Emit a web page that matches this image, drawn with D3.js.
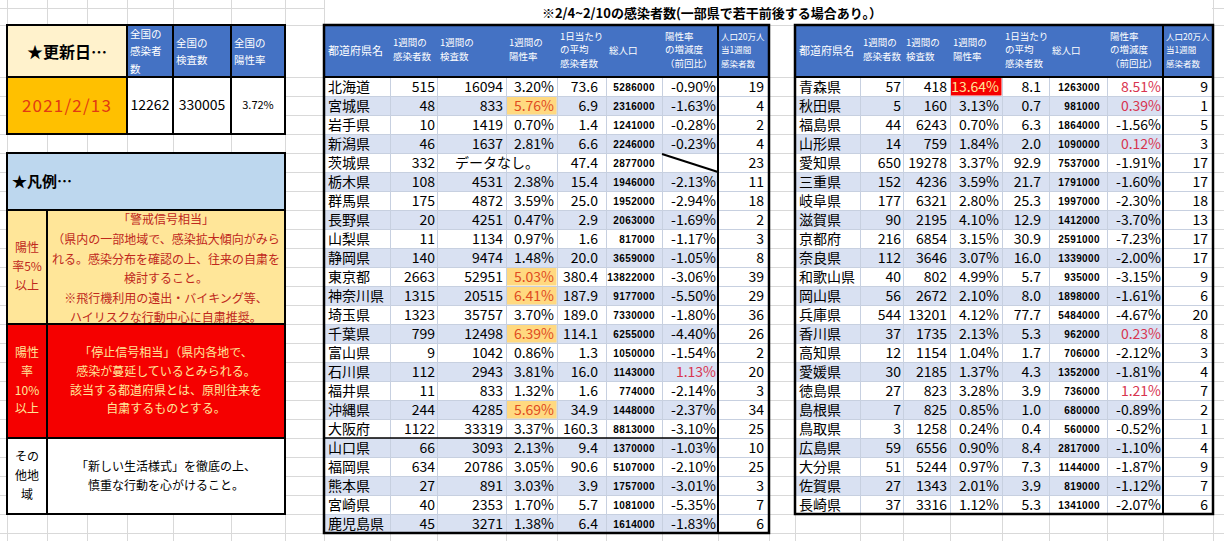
<!DOCTYPE html>
<html>
<head>
<meta charset="utf-8">
<script src="https://cdn.jsdelivr.net/npm/d3@7"></script>
<style>
  body { margin: 0; background: #fff; }
  svg { display: block; font-family: "Noto Sans CJK JP", "Noto Sans", sans-serif; }
</style>
</head>
<body>
<svg id="sheet" width="1224" height="541"></svg>
<script>
// ---- data ----
const updateDate = "2021/2/13";
const summaryLabels = [["全国の", "感染者", "数"], ["全国の", "検査数"], ["全国の", "陽性率"]];
const summaryValues = ["12262", "330005", "3.72%"];

const title = "※2/4~2/10の感染者数(一部県で若干前後する場合あり。）";

const headerLines = [
	["都道府県名"],
	["1週間の", "感染者数"],
	["1週間の", "検査数"],
	["1週間の", "陽性率"],
	["1日当たり", "の平均", "感染者数"],
	["総人口"],
	["陽性率", "の増減度", "（前回比）"],
	["人口20万人", "当1週間", "感染者数"],
];

const midNames = ["北海道", "宮城県", "岩手県", "新潟県", "茨城県", "栃木県", "群馬県", "長野県", "山梨県", "静岡県", "東京都", "神奈川県", "埼玉県", "千葉県", "富山県", "石川県", "福井県", "沖縄県", "大阪府", "山口県", "福岡県", "熊本県", "宮崎県", "鹿児島県"];
const midCases = [515, 48, 10, 46, 332, 108, 175, 20, 11, 140, 2663, 1315, 1323, 799, 9, 112, 11, 244, 1122, 66, 634, 27, 40, 45];
const midTests = [16094, 833, 1419, 1637, null, 4531, 4872, 4251, 1134, 9474, 52951, 20515, 35757, 12498, 1042, 2943, 833, 4285, 33319, 3093, 20786, 891, 2353, 3271];
const midRate = [3.20, 5.76, 0.70, 2.81, null, 2.38, 3.59, 0.47, 0.97, 1.48, 5.03, 6.41, 3.70, 6.39, 0.86, 3.81, 1.32, 5.69, 3.37, 2.13, 3.05, 3.03, 1.70, 1.38];
const midAvg = [73.6, 6.9, 1.4, 6.6, 47.4, 15.4, 25.0, 2.9, 1.6, 20.0, 380.4, 187.9, 189.0, 114.1, 1.3, 16.0, 1.6, 34.9, 160.3, 9.4, 90.6, 3.9, 5.7, 6.4];
const midPop = [5286000, 2316000, 1241000, 2246000, 2877000, 1946000, 1952000, 2063000, 817000, 3659000, 13822000, 9177000, 7330000, 6255000, 1050000, 1143000, 774000, 1448000, 8813000, 1370000, 5107000, 1757000, 1081000, 1614000];
const midChange = [-0.90, -1.63, -0.28, -0.23, null, -2.13, -2.94, -1.69, -1.17, -1.05, -3.06, -5.50, -1.80, -4.40, -1.54, 1.13, -2.14, -2.37, -3.10, -1.03, -2.10, -3.01, -5.35, -1.83];
const midPer = [19, 4, 2, 4, 23, 11, 18, 2, 3, 8, 39, 29, 36, 26, 2, 20, 3, 34, 25, 10, 25, 3, 7, 6];

const rightNames = ["青森県", "秋田県", "福島県", "山形県", "愛知県", "三重県", "岐阜県", "滋賀県", "京都府", "奈良県", "和歌山県", "岡山県", "兵庫県", "香川県", "高知県", "愛媛県", "徳島県", "島根県", "鳥取県", "広島県", "大分県", "佐賀県", "長崎県"];
const rightCases = [57, 5, 44, 14, 650, 152, 177, 90, 216, 112, 40, 56, 544, 37, 12, 30, 27, 7, 3, 59, 51, 27, 37];
const rightTests = [418, 160, 6243, 759, 19278, 4236, 6321, 2195, 6854, 3646, 802, 2672, 13201, 1735, 1154, 2185, 823, 825, 1258, 6556, 5244, 1343, 3316];
const rightRate = [13.64, 3.13, 0.70, 1.84, 3.37, 3.59, 2.80, 4.10, 3.15, 3.07, 4.99, 2.10, 4.12, 2.13, 1.04, 1.37, 3.28, 0.85, 0.24, 0.90, 0.97, 2.01, 1.12];
const rightAvg = [8.1, 0.7, 6.3, 2.0, 92.9, 21.7, 25.3, 12.9, 30.9, 16.0, 5.7, 8.0, 77.7, 5.3, 1.7, 4.3, 3.9, 1.0, 0.4, 8.4, 7.3, 3.9, 5.3];
const rightPop = [1263000, 981000, 1864000, 1090000, 7537000, 1791000, 1997000, 1412000, 2591000, 1339000, 935000, 1898000, 5484000, 962000, 706000, 1352000, 736000, 680000, 560000, 2817000, 1144000, 819000, 1341000];
const rightChange = [8.51, 0.39, -1.56, 0.12, -1.91, -1.60, -2.30, -3.70, -7.23, -2.00, -3.15, -1.61, -4.67, 0.23, -2.12, -1.81, 1.21, -0.89, -0.52, -1.10, -1.87, -1.12, -2.07];
const rightPer = [9, 1, 5, 3, 17, 17, 18, 13, 17, 17, 9, 6, 20, 8, 3, 4, 7, 2, 1, 4, 9, 7, 6];

const legendYellow = ["「警戒信号相当」", "（県内の一部地域で、感染拡大傾向がみら", "れる。感染分布を確認の上、往来の自粛を", "検討すること。", "※飛行機利用の遠出・バイキング等、", "ハイリスクな行動中心に自粛推奨。"];
const legendRed = ["「停止信号相当」（県内各地で、", "感染が蔓延しているとみられる。", "該当する都道府県とは、原則往来を", "自粛するものとする。"];
const legendWhite = ["「新しい生活様式」を徹底の上、", "慎重な行動を心がけること。"];
const legendLabels = [["陽性", "率5%", "以上"], ["陽性", "率", "10%", "以上"], ["その", "他地", "域"]];

// ---- layout ----
const W = 1224, H = 541;
const ROW_H = 19, TOP = 25, HEAD_B = 77;
const midEdges = [324, 390, 437, 506, 557, 606, 662, 718, 769];
const rightEdges = [795, 860, 903, 950, 1002, 1049, 1107, 1163, 1213];
const gridX = [7, 47, 87, 127, 173, 231, 285, 324, 390, 437, 506, 557, 606, 662, 718, 769, 795, 860, 903, 950, 1002, 1049, 1107, 1163, 1213];
const padR = [0, 2, 3, 3, 8, 7, 2, 5];

const C = {
	grid: "#d9d9d9",
	head: "#4472c4",
	stripe: "#d9e1f2",
	warn: "#ffd980",
	warnText: "#e04b1f",
	stop: "#f50000",
	stopText: "#ffe699",
	plus: "#d8344f",
	beige: "#fff2cc",
	orange: "#ffc000",
	legendBlue: "#bdd7ee",
	yellow: "#ffe699",
	yellowText: "#c0281c",
};

const svg = d3.select("#sheet");

// spreadsheet grid
const grid = svg.append("g").attr("stroke", C.grid).attr("stroke-width", 1);
grid.selectAll("line.v").data(gridX).join("line")
	.attr("x1", (d) => d + 0.5).attr("x2", (d) => d + 0.5)
	.attr("y1", 0).attr("y2", H);
const gridY = [8, TOP].concat(d3.range(HEAD_B, H, ROW_H));
grid.selectAll("line.h").data(gridY).join("line")
	.attr("x1", 0).attr("x2", W)
	.attr("y1", (d) => d + 0.5).attr("y2", (d) => d + 0.5);

// title (covers grid like overflowing cell text)
svg.append("rect").attr("x", 325).attr("y", 0).attr("width", 887).attr("height", TOP).attr("fill", "#fff");
svg.append("text").attr("x", 712).attr("y", 13).attr("dy", "0.36em")
	.attr("text-anchor", "middle").attr("font-size", 13).attr("font-weight", "bold")
	.text(title);

function lines(g, arr, x, yc, step, attrs) {
	const y0 = yc - ((arr.length - 1) * step) / 2;
	const t = g.append("g");
	for (const k in attrs) t.attr(k, attrs[k]);
	t.selectAll("text").data(arr).join("text")
		.attr("x", x).attr("y", (d, i) => y0 + i * step).attr("dy", "0.36em")
		.text((d) => d);
	return t;
}

// ---- left panel ----
const left = svg.append("g");
const sumEdges = [7, 127, 173, 231, 285];
left.append("rect").attr("x", 7).attr("y", TOP).attr("width", 120).attr("height", 52).attr("fill", C.beige);
left.append("rect").attr("x", 127).attr("y", TOP).attr("width", 158).attr("height", 52).attr("fill", C.head);
left.append("rect").attr("x", 7).attr("y", HEAD_B).attr("width", 120).attr("height", 57).attr("fill", C.orange);
left.append("rect").attr("x", 127).attr("y", HEAD_B).attr("width", 158).attr("height", 57).attr("fill", "#fff");
left.append("text").attr("x", 67).attr("y", 52).attr("dy", "0.36em").attr("text-anchor", "middle")
	.attr("font-size", 16).attr("font-weight", "bold").text("★更新日…");
left.append("text").attr("x", 67).attr("y", 106).attr("dy", "0.36em").attr("text-anchor", "middle")
	.attr("font-size", 17).attr("letter-spacing", 1.2).attr("fill", "#e23a12").text(updateDate);
summaryLabels.forEach((ls, i) => {
	const y0 = ls.length === 3 ? 34 : 43;
	left.append("g").attr("fill", "#fff").attr("font-size", 10.5)
		.selectAll("text").data(ls).join("text")
		.attr("x", sumEdges[i + 1] + 3).attr("y", (d, k) => y0 + k * 17.5).attr("dy", "0.36em")
		.text((d) => d);
});
summaryValues.forEach((v, i) => {
	left.append("text").attr("x", (sumEdges[i + 1] + sumEdges[i + 2]) / 2).attr("y", 105).attr("dy", "0.36em")
		.attr("text-anchor", "middle").attr("font-size", i === 2 ? 11 : 14).text(v);
});
left.append("g").attr("stroke", "#000").attr("stroke-width", 2).attr("fill", "none")
	.call((g) => {
		g.append("rect").attr("x", 7).attr("y", TOP).attr("width", 278).attr("height", 109);
		g.append("line").attr("x1", 7).attr("x2", 285).attr("y1", HEAD_B).attr("y2", HEAD_B);
		sumEdges.slice(1, 4).forEach((x) => g.append("line").attr("x1", x).attr("x2", x).attr("y1", TOP).attr("y2", 134));
	});

// legend box
const lg = svg.append("g");
const legY = [153, 210, 324, 438, 514];
lg.append("rect").attr("x", 7).attr("y", legY[0]).attr("width", 278).attr("height", legY[1] - legY[0]).attr("fill", C.legendBlue);
lg.append("rect").attr("x", 7).attr("y", legY[1]).attr("width", 278).attr("height", legY[2] - legY[1]).attr("fill", C.yellow);
lg.append("rect").attr("x", 7).attr("y", legY[2]).attr("width", 278).attr("height", legY[3] - legY[2]).attr("fill", C.stop);
lg.append("rect").attr("x", 7).attr("y", legY[3]).attr("width", 278).attr("height", legY[4] - legY[3]).attr("fill", "#fff");
lg.append("text").attr("x", 12).attr("y", 182).attr("dy", "0.36em").attr("font-size", 15).attr("font-weight", "bold").text("★凡例…");

lines(lg, legendLabels[0], 27, 267, 19, { fill: C.yellowText, "font-size": 12, "text-anchor": "middle" });
lines(lg, legendYellow, 166, 269, 19.6, { fill: C.yellowText, "font-size": 12, "text-anchor": "middle" });
lines(lg, legendLabels[1], 27, 381, 18.7, { fill: C.stopText, "font-size": 12, "text-anchor": "middle" });
lines(lg, legendRed, 166, 381, 18.7, { fill: C.stopText, "font-size": 12, "text-anchor": "middle" });
lines(lg, legendLabels[2], 27, 476, 19, { fill: "#000", "font-size": 12, "text-anchor": "middle" });
lines(lg, legendWhite, 166, 476, 18.5, { fill: "#000", "font-size": 12, "text-anchor": "middle" });

lg.append("g").attr("stroke", "#000").attr("stroke-width", 2).attr("fill", "none")
	.call((g) => {
		g.append("rect").attr("x", 7).attr("y", legY[0]).attr("width", 278).attr("height", legY[4] - legY[0]);
		legY.slice(1, 4).forEach((y) => g.append("line").attr("x1", 7).attr("x2", 285).attr("y1", y).attr("y2", y));
		g.append("line").attr("x1", 47).attr("x2", 47).attr("y1", legY[1]).attr("y2", legY[4]);
	});

// ---- prefecture tables ----
const pct = (v) => v.toFixed(2) + "%";
function drawTable(edges, names, cases, tests, rate, avg, pop, change, per, splitAfter) {
	const g = svg.append("g");
	const y = d3.scaleBand().domain(names).range([HEAD_B, HEAD_B + ROW_H * names.length]);
	const x0 = edges[0], x1 = edges[edges.length - 1], xSep = edges[7];
	const yEnd = y.range()[1];

	// background
	g.append("rect").attr("x", x0).attr("y", TOP).attr("width", x1 - x0).attr("height", HEAD_B - TOP).attr("fill", C.head);
	g.append("rect").attr("x", x0).attr("y", HEAD_B).attr("width", x1 - x0).attr("height", yEnd - HEAD_B).attr("fill", "#fff");
	g.selectAll("rect.stripe").data(names.filter((d, i) => i % 2 === 1)).join("rect")
		.attr("x", x0).attr("width", xSep - x0)
		.attr("y", (d) => y(d)).attr("height", y.bandwidth())
		.attr("fill", C.stripe);

	// highlighted positivity cells
	g.selectAll("rect.hl").data(names.filter((d, i) => rate[i] !== null && rate[i] >= 5)).join("rect")
		.attr("x", edges[3] + 0.5).attr("width", edges[4] - edges[3] - 1)
		.attr("y", (d) => y(d) + 0.5).attr("height", y.bandwidth() - 1)
		.attr("fill", (d) => rate[names.indexOf(d)] >= 10 ? C.stop : C.warn);

	// thin cell lines
	const thin = g.append("g").attr("stroke", "#c7d0e0").attr("stroke-width", 1);
	thin.selectAll("line.v").data(edges.slice(1, 7)).join("line")
		.attr("x1", (d) => d + 0.5).attr("x2", (d) => d + 0.5).attr("y1", HEAD_B).attr("y2", yEnd);
	thin.selectAll("line.h").data(names.slice(1)).join("line")
		.attr("x1", x0).attr("x2", x1).attr("y1", (d) => y(d) + 0.5).attr("y2", (d) => y(d) + 0.5);

	// header
	headerLines.forEach((ls, j) => {
		const n = ls.length;
		const step = n === 3 ? 13.5 : 14;
		const yc = (TOP + HEAD_B) / 2 + (n === 1 ? 0 : -1);
		lines(g, ls, edges[j] + (j === 0 ? 4 : 3), yc, step, {
			fill: "#fff",
			"font-size": j === 0 ? 11 : j === 7 ? 8.5 : 9.5,
		});
	});

	// body cells
	const cols = [
		(i) => cases[i],
		(i) => tests[i],
		(i) => (rate[i] === null ? null : pct(rate[i])),
		(i) => avg[i].toFixed(1),
		(i) => pop[i],
		(i) => (change[i] === null ? null : pct(change[i])),
		(i) => per[i],
	];
	const body = g.append("g").attr("font-size", 14);
	names.forEach((name, i) => {
		const yc = y(name) + y.bandwidth() / 2 + 0.5;
		body.append("text").attr("x", edges[0] + 4).attr("y", yc).attr("dy", "0.36em").text(name);
		cols.forEach((f, c) => {
			const v = f(i);
			if (v === null) return;
			const j = c + 1;
			const t = body.append("text")
				.attr("x", edges[j + 1] - padR[j]).attr("y", yc).attr("dy", "0.36em")
				.attr("text-anchor", "end").text(v);
			if (j === 5) t.attr("font-size", 10).attr("font-family", "Liberation Sans, Arial, sans-serif").attr("font-weight", "bold").attr("letter-spacing", 0.4);
			if (j === 3 && rate[i] >= 10) t.attr("fill", C.stopText);
			else if (j === 3 && rate[i] >= 5) t.attr("fill", C.warnText);
			if (j === 6 && change[i] > 0) t.attr("fill", C.plus);
		});
		if (tests[i] === null) {
			body.append("text").attr("x", (edges[2] + edges[4]) / 2).attr("y", yc).attr("dy", "0.36em")
				.attr("text-anchor", "middle").text("データなし。");
		}
		if (change[i] === null) {
			g.append("line").attr("x1", edges[6]).attr("y1", y(name) + 1)
				.attr("x2", edges[7]).attr("y2", y(name) + y.bandwidth())
				.attr("stroke", "#000").attr("stroke-width", 2);
		}
	});

	// heavy borders
	const b = g.append("g").attr("stroke", "#000").attr("fill", "none");
	b.append("rect").attr("x", x0).attr("y", TOP).attr("width", x1 - x0).attr("height", yEnd - TOP).attr("stroke-width", 2.5);
	b.append("line").attr("x1", x0).attr("x2", x1).attr("y1", HEAD_B).attr("y2", HEAD_B).attr("stroke-width", 2);
	b.append("line").attr("x1", xSep).attr("x2", xSep).attr("y1", TOP).attr("y2", yEnd).attr("stroke-width", 2);
	if (splitAfter) {
		const ys = y(splitAfter) + y.bandwidth();
		b.append("line").attr("x1", x0).attr("x2", xSep).attr("y1", ys).attr("y2", ys).attr("stroke-width", 1.5);
	}
}

drawTable(midEdges, midNames, midCases, midTests, midRate, midAvg, midPop, midChange, midPer, "大阪府");
drawTable(rightEdges, rightNames, rightCases, rightTests, rightRate, rightAvg, rightPop, rightChange, rightPer, null);
</script>
</body>
</html>
